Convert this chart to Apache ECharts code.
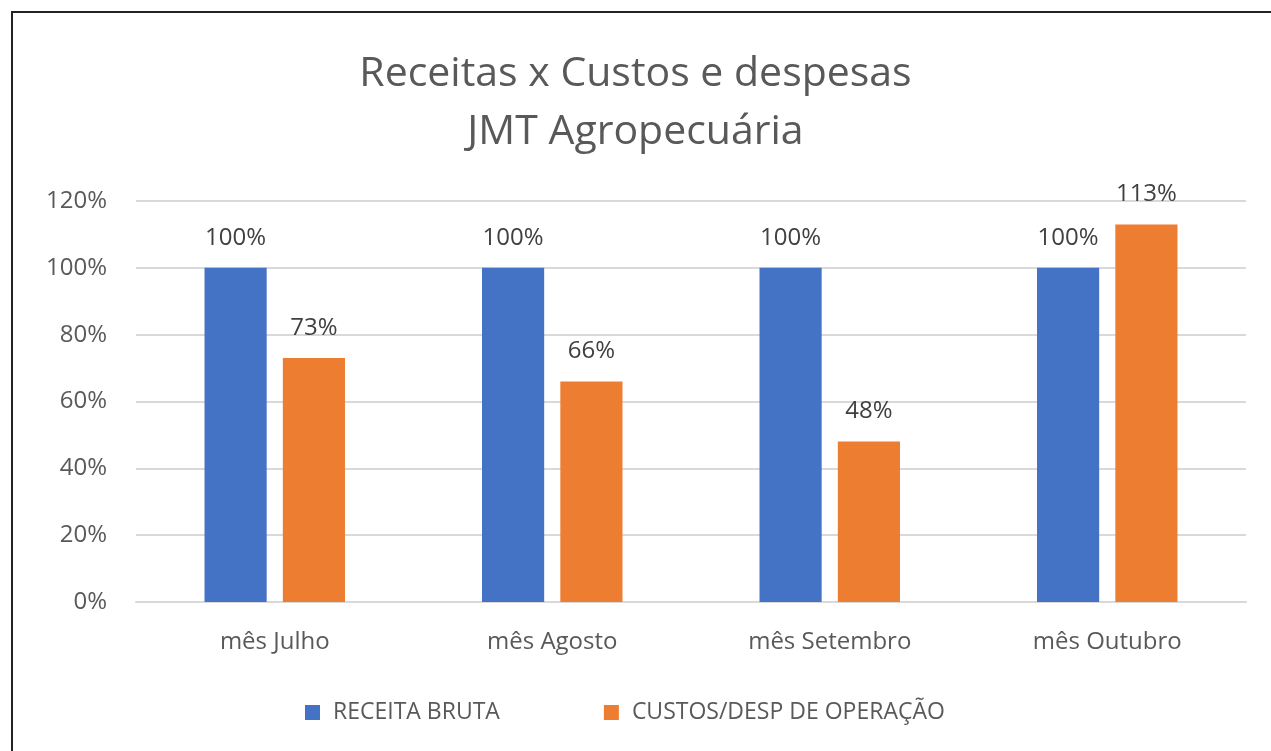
<!DOCTYPE html>
<html><head><meta charset="utf-8">
<script src="https://cdn.jsdelivr.net/npm/echarts@6/dist/echarts.min.js"></script>
<style>
html,body{margin:0;padding:0;background:#fff;}
#frame{position:absolute;left:11px;top:11px;width:1270px;height:750px;border-left:2px solid #222;border-top:2px solid #222;box-sizing:border-box;}
#chart{position:absolute;left:0;top:0;width:1271px;height:751px;}
</style></head>
<body>
<div id="frame"></div>
<div id="chart"></div>
<script>
const categories = ['mês Julho', 'mês Agosto', 'mês Setembro', 'mês Outubro'];
const receitaBruta = [100, 100, 100, 100];
const custosDesp = [73, 66, 48, 113];
const seriesNames = ['RECEITA BRUTA', 'CUSTOS/DESP DE OPERAÇÃO'];

const font = '"Open Sans", Lato, sans-serif';
const chart = echarts.init(document.getElementById('chart'), null, {renderer: 'canvas'});
const labelCfg = {show: true, position: 'top', distance: 18, formatter: p => Math.round(p.value) + '%', color: '#404040', fontSize: 24, fontFamily: font};
chart.setOption({
  animation: false,
  backgroundColor: 'transparent',
  title: {
    text: 'Receitas x Custos e despesas\nJMT Agropecuária',
    left: 'center', top: 40, itemGap: 0,
    textStyle: {color: '#595959', fontSize: 41, fontWeight: 'normal', fontFamily: font, lineHeight: 58}
  },
  legend: {
    data: seriesNames, bottom: 22, left: 300, itemWidth: 15, itemHeight: 15, itemGap: 104,
    icon: 'rect',
    textStyle: {color: '#595959', fontSize: 23, fontFamily: font, padding: [0, 0, 0, 8]}
  },
  grid: {left: 136, right: 25, top: 201, bottom: 149, containLabel: false},
  xAxis: {
    type: 'category', data: categories,
    axisLine: {lineStyle: {color: '#d9d9d9', width: 2}},
    axisTick: {show: false},
    axisLabel: {color: '#595959', fontSize: 24, fontFamily: font, margin: 28}
  },
  yAxis: {
    type: 'value', min: 0, max: 120, interval: 20,
    axisLine: {show: false}, axisTick: {show: false},
    splitLine: {lineStyle: {color: '#d9d9d9', width: 2}},
    axisLabel: {color: '#595959', fontSize: 24, fontFamily: font, margin: 29, formatter: v => v + '%'}
  },
  series: [
    {name: seriesNames[0], type: 'bar', data: receitaBruta, barWidth: '22.4%', barGap: '26%', itemStyle: {color: '#4472C4'}, label: labelCfg},
    {name: seriesNames[1], type: 'bar', data: custosDesp, barWidth: '22.4%', itemStyle: {color: '#ED7D31'}, label: labelCfg}
  ]
});
</script>
</body></html>
